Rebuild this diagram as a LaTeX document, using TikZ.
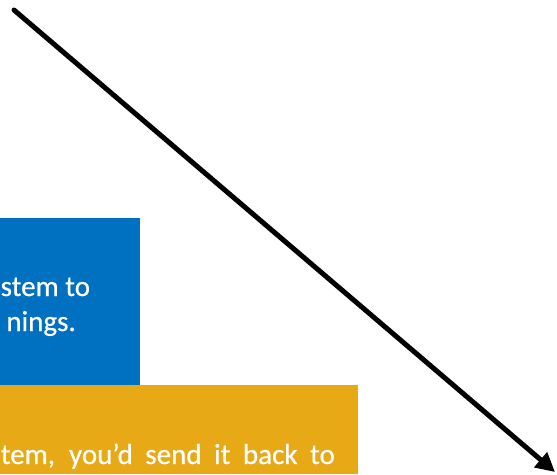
\documentclass[tikz,border=0pt]{standalone}
\usepackage{fontspec}
\setmainfont{Carlito}
\newfontfamily\boxfont[FakeBold=0.6]{Carlito}
\usetikzlibrary{arrows.meta}
\definecolor{boxblue}{RGB}{0,112,192}
\definecolor{boxorange}{RGB}{231,169,21}
\tikzset{
  boxtxt/.style={text=white, font=\boxfont\fontsize{29pt}{36pt}\selectfont, inner sep=0pt},
  bigarrow/.style={line width=5pt, line cap=round, -{Triangle[length=19pt,width=19pt]}}
}
\begin{document}
\begin{tikzpicture}[x=1pt,y=-1pt]
\useasboundingbox (0,0) rectangle (557,474);
\fill[boxblue] (0,218) rectangle (139.5,384.5);
\fill[boxorange] (0,384.5) rectangle (357.5,474);
\node[boxtxt, anchor=base west] (t1) at (0.5,296) {stem to};
\node[boxtxt, anchor=base east] (t2) at (76,331) {nings.};
\node[boxtxt, anchor=base east] (t3) at (335,464) {\makebox[334pt][s]{tem, you’d send it back to}};
\coordinate (a) at (14,10);
\coordinate (b) at (555,472);
\draw[bigarrow] (a) -- (b);
\end{tikzpicture}
\end{document}
